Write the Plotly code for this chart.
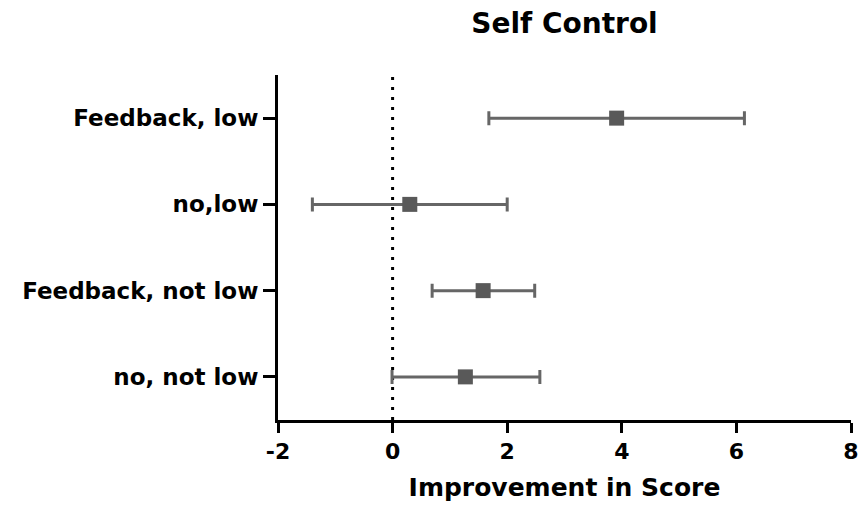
import plotly.graph_objects as go

categories = ["Feedback, low", "no,low", "Feedback, not low", "no, not low"]
means = [3.91, 0.30, 1.58, 1.27]
ci_low = [1.68, -1.40, 0.69, -0.01]
ci_high = [6.14, 2.00, 2.48, 2.57]
x_ticks = [-2, 0, 2, 4, 6, 8]

err_plus = [h - m for h, m in zip(ci_high, means)]
err_minus = [m - l for m, l in zip(means, ci_low)]

FONT = "DejaVu Sans, Liberation Sans, Arial, sans-serif"

fig = go.Figure()
fig.add_trace(go.Scatter(
    x=means, y=categories, mode="markers",
    marker=dict(symbol="square", size=15, color="#595959"),
    error_x=dict(type="data", symmetric=False, array=err_plus, arrayminus=err_minus,
                 color="#666666", thickness=3, width=7),
    showlegend=False,
))

fig.add_shape(type="line", xref="x", yref="paper", x0=0, x1=0, y0=0, y1=1,
              line=dict(color="black", width=3, dash="3px,7px"), layer="below")

fig.update_layout(
    width=859, height=508,
    margin=dict(l=278, r=8, t=75, b=88, autoexpand=False),
    paper_bgcolor="white", plot_bgcolor="white",
    font=dict(family=FONT, color="black"),
    title=dict(text="<b>Self Control</b>", x=0.5, xref="paper", y=1 - 23 / 508,
               yref="container", xanchor="center", yanchor="middle",
               font=dict(size=28, family=FONT, color="black")),
    xaxis=dict(range=[-2, 8], tickvals=x_ticks, ticktext=[str(v) for v in x_ticks],
               automargin=False,
               showgrid=False, zeroline=False, showline=True, linecolor="black", linewidth=3,
               ticks="outside", ticklen=10, tickwidth=3, tickcolor="black",
               tickfont=dict(size=22, family=FONT, weight="bold", color="black"),
               title=dict(text="<b>Improvement in Score</b>", standoff=16,
                          font=dict(size=25, family=FONT, color="black"))),
    yaxis=dict(type="category", categoryorder="array", categoryarray=categories,
               automargin=False,
               range=[3.5, -0.5], showgrid=False, zeroline=False, showline=True,
               linecolor="black", linewidth=3, ticks="outside", ticklen=12, tickwidth=3,
               tickcolor="black",
               tickfont=dict(size=23, family=FONT, weight="bold", color="black")),
)

fig.write_html("out.html")
